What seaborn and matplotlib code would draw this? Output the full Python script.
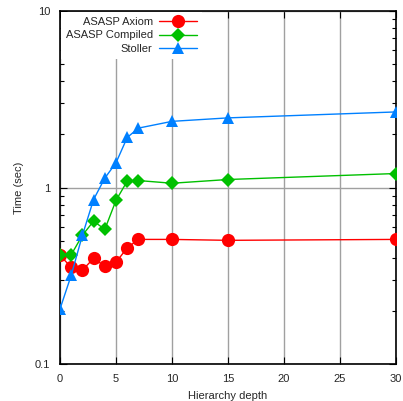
import matplotlib
matplotlib.use("Agg")
import matplotlib.pyplot as plt
import seaborn as sns
import pandas as pd
from matplotlib.ticker import LogLocator, NullFormatter

depth = [0, 1, 2, 3, 4, 5, 6, 7, 10, 15, 30]
axiom = [0.413, 0.353, 0.340, 0.397, 0.358, 0.377, 0.455, 0.508, 0.508, 0.502, 0.508]
compiled = [0.413, 0.416, 0.536, 0.645, 0.579, 0.845, 1.086, 1.095, 1.057, 1.11, 1.20]
stoller = [0.205, 0.318, 0.536, 0.855, 1.13, 1.38, 1.92, 2.17, 2.37, 2.48, 2.68]
series_names = ["ASASP Axiom", "ASASP Compiled", "Stoller"]

sns.set_style("ticks")
plt.rcParams["font.family"] = ["Liberation Sans", "DejaVu Sans"]

rows = []
for name, vals in zip(series_names, [axiom, compiled, stoller]):
    for d, v in zip(depth, vals):
        rows.append({"depth": d, "time": v, "series": name})
df = pd.DataFrame(rows)

fig = plt.figure(figsize=(4.03, 4.01), dpi=100)
ax = fig.add_axes([60/403, 1 - 364/401, 336/403, 353/401])

colors = {"ASASP Axiom": "#ff0000", "ASASP Compiled": "#00c000", "Stoller": "#0080ff"}
markers = {"ASASP Axiom": "o", "ASASP Compiled": "D", "Stoller": "^"}
sizes = {"ASASP Axiom": 9.5, "ASASP Compiled": 7, "Stoller": 9}

for name in series_names:
    sub = df[df["series"] == name]
    sns.lineplot(data=sub, x="depth", y="time", ax=ax, color=colors[name],
                 marker=markers[name], markersize=sizes[name], markeredgewidth=0,
                 linewidth=1, label=name, zorder=3)

ax.set_yscale("log")
ax.set_xlim(0, 30)
ax.set_ylim(0.1, 10)
ax.set_xticks([0, 5, 10, 15, 20, 25, 30])
ax.set_yticks([0.1, 1, 10])
ax.set_yticklabels(["0.1", "1", "10"])
ax.yaxis.set_minor_locator(LogLocator(base=10, subs=range(2, 10)))
ax.yaxis.set_minor_formatter(NullFormatter())
ax.tick_params(which="both", direction="in", right=True, top=True, labelsize=8, color="black")
ax.tick_params(axis="x", which="major", pad=7)
ax.tick_params(axis="y", which="major", pad=7)
ax.tick_params(which="major", length=5, width=0.8)
ax.tick_params(which="minor", length=3, width=0.8)
ax.grid(True, which="major", color="#a0a0a0", linewidth=1, zorder=0)
ax.set_axisbelow(True)
for s in ax.spines.values():
    s.set_linewidth(1.2)
    s.set_color("black")

ax.set_xlabel("Hierarchy depth", fontsize=8, labelpad=5)
ax.set_ylabel("Time (sec)", fontsize=8, labelpad=8)

leg = ax.legend(loc="upper left", bbox_to_anchor=(0.0, 1.0), frameon=True, markerfirst=False,
                fontsize=8, handlelength=3.4, handletextpad=0.6, labelspacing=0.35,
                borderaxespad=0.1, facecolor="white", edgecolor="none", framealpha=1.0,
                fancybox=False)
leg.set_zorder(5)
for t in leg.get_texts():
    t.set_ha("right")

fig.savefig("out.png", dpi=100)
